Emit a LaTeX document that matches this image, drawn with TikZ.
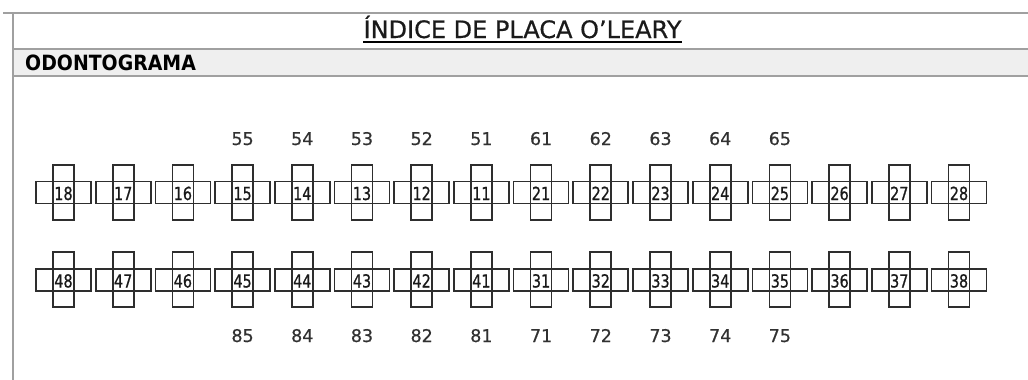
\documentclass[tikz,border=0pt]{standalone}
\usepackage{fontspec}
\usepackage{graphicx}
\setmainfont{DejaVu Sans}
\newfontfamily\semifont[FakeBold=0.6]{DejaVu Sans}
\newfontfamily\numfont[FakeBold=0.9]{DejaVu Sans}
\definecolor{framegray}{HTML}{A0A0A0}
\definecolor{bandgray}{HTML}{EFEFEF}
\definecolor{toothline}{HTML}{2E2E2E}
\definecolor{textdark}{HTML}{1A1A1A}
\tikzset{
  frameline/.style={draw=framegray, line width=2.8pt},
  hbox/.style={draw=toothline, line width=1.7pt, minimum width=55pt, minimum height=22pt, inner sep=0pt},
  vbox/.style={draw=toothline, line width=1.7pt, minimum width=21pt, minimum height=55pt, inner sep=0pt},
  tnum/.style={anchor=base, inner sep=0pt, text=textdark, font=\numfont\fontsize{18}{18}\selectfont},
  lbl/.style={anchor=base, inner sep=0pt, text=textdark!90, font=\semifont\fontsize{17.5}{17.5}\selectfont},
  titletext/.style={anchor=base, inner sep=0pt, text=textdark, font=\semifont\fontsize{24}{24}\selectfont},
  headtext/.style={anchor=base west, inner sep=0pt, text=black, font=\bfseries\fontsize{21}{21}\selectfont}
}
\begin{document}
\begin{tikzpicture}[x=1pt,y=-1pt]
\useasboundingbox (0,0) rectangle (1028,380);
% frame and header band
\fill[bandgray] (13,49) rectangle (1028,76);
\draw[frameline] (3,13) -- (1028,13);
\draw[frameline] (13,13) -- (13,380);
\draw[frameline] (13,49) -- (1028,49);
\draw[frameline] (13,76) -- (1028,76);
\node[titletext] (title) at (522.5,38) {ÍNDICE DE PLACA O’LEARY};
\draw[black, line width=2pt] ([yshift=-4pt]title.base west) -- ([yshift=-4pt]title.base east);
\node[headtext] (head) at (25,70.5) {\scalebox{0.9}[1]{ODONTOGRAMA}};
% upper row of teeth
\foreach \t [count=\i from 0] in {18,17,16,15,14,13,12,11,21,22,23,24,25,26,27,28} {
  \pgfmathsetmacro{\cx}{63.5+59.7*\i}
  \node[hbox] (h\t) at (\cx,192.5) {};
  \node[vbox] (v\t) at (\cx,192.5) {};
  \node[tnum] (n\t) at (\cx,200) {\scalebox{0.8}[1]{\t}};
}
% lower row of teeth
\foreach \t [count=\i from 0] in {48,47,46,45,44,43,42,41,31,32,33,34,35,36,37,38} {
  \pgfmathsetmacro{\cx}{63.5+59.7*\i}
  \node[hbox] (h\t) at (\cx,280) {};
  \node[vbox] (v\t) at (\cx,279.5) {};
  \node[tnum] (n\t) at (\cx,287.5) {\scalebox{0.8}[1]{\t}};
}
% primary teeth labels
\foreach \t [count=\i from 3] in {55,54,53,52,51,61,62,63,64,65} {
  \pgfmathsetmacro{\cx}{63.5+59.7*\i}
  \node[lbl] (p\t) at (\cx,145) {\t};
}
\foreach \t [count=\i from 3] in {85,84,83,82,81,71,72,73,74,75} {
  \pgfmathsetmacro{\cx}{63.5+59.7*\i}
  \node[lbl] (p\t) at (\cx,342) {\t};
}
\end{tikzpicture}
\end{document}
